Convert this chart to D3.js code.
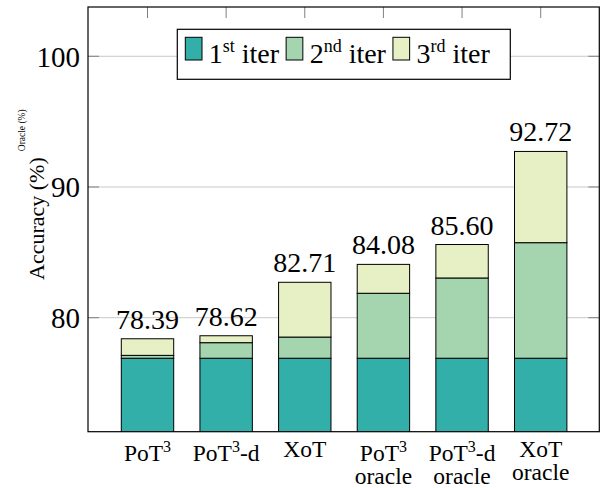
<!DOCTYPE html>
<html>
<head>
<meta charset="utf-8">
<script src="https://cdn.jsdelivr.net/npm/d3@7"></script>
<style>
  body { margin: 0; background: #fff; }
</style>
</head>
<body>
<svg id="chart" width="603" height="488"></svg>
<script>
// categories, "^" marks a one-character superscript, "\n" a line break
const categories = ["PoT^3", "PoT^3-d", "XoT", "PoT^3\noracle", "PoT^3-d\noracle", "XoT\noracle"];
// gain of each iteration (stacked)
const iter1 = [76.90, 76.90, 76.90, 76.90, 76.90, 76.90];
const iter2 = [0.22, 1.19, 1.62, 4.97, 6.14, 8.84];
const iter3 = [1.27, 0.53, 4.19, 2.21, 2.56, 6.98];
const totals = ["78.39", "78.62", "82.71", "84.08", "85.60", "92.72"];
const seriesNames = [["1", "st", " iter"], ["2", "nd", " iter"], ["3", "rd", " iter"]];
const seriesColors = ["#33afa9", "#a5d5ae", "#e6f0c4"];
const yTicks = [80, 90, 100];

const FONT = "Liberation Serif";
const svg = d3.select("#chart");
const plotLeft = 88, plotRight = 599.3, plotTop = 7, plotBottom = 431.7;

const x = d3.scalePoint()
    .domain(d3.range(categories.length))
    .range([147.5, 540.7]);
const barWidth = 52.4;

const y = d3.scaleLinear()
    .domain([71.28, 103.77])
    .range([plotBottom, plotTop]);

const rows = categories.map((c, i) => ({ i: i, s0: iter1[i], s1: iter2[i], s2: iter3[i] }));
const stack = d3.stack().keys(["s0", "s1", "s2"]);
const series = stack(rows);

// clip bars to the plot area (they start at 0)
svg.append("defs").append("clipPath")
    .attr("id", "plotClip")
    .append("rect")
    .attr("x", plotLeft).attr("y", plotTop)
    .attr("width", plotRight - plotLeft).attr("height", plotBottom - plotTop);

// grid lines
svg.append("g")
    .selectAll("line")
    .data(yTicks)
    .enter().append("line")
    .attr("x1", plotLeft).attr("x2", plotRight)
    .attr("y1", d => y(d)).attr("y2", d => y(d))
    .style("stroke", "#c8c8c8")
    .style("stroke-width", 1);

// tick marks (inward, both sides)
const tickG = svg.append("g").style("stroke", "#808080").style("stroke-width", 1);
yTicks.forEach(t => {
    tickG.append("line").attr("x1", plotLeft).attr("x2", plotLeft + 11).attr("y1", y(t)).attr("y2", y(t));
    tickG.append("line").attr("x1", plotRight - 11).attr("x2", plotRight).attr("y1", y(t)).attr("y2", y(t));
});
x.domain().forEach(i => {
    tickG.append("line").attr("x1", x(i)).attr("x2", x(i)).attr("y1", plotTop).attr("y2", plotTop + 11);
});

// bars
svg.append("g")
    .attr("clip-path", "url(#plotClip)")
    .selectAll("g")
    .data(series)
    .enter().append("g")
    .attr("fill", (d, k) => seriesColors[k])
    .selectAll("rect")
    .data(d => d)
    .enter().append("rect")
    .attr("x", d => x(d.data.i) - barWidth / 2)
    .attr("width", barWidth)
    .attr("y", d => y(d[1]))
    .attr("height", d => y(d[0]) - y(d[1]))
    .style("stroke", "#000")
    .style("stroke-width", 1);

// value labels
svg.append("g")
    .selectAll("text")
    .data(series[2])
    .enter().append("text")
    .attr("x", d => x(d.data.i))
    .attr("y", d => y(d[1]) - 10)
    .attr("text-anchor", "middle")
    .attr("font-family", FONT)
    .attr("font-size", 28)
    .text((d, i) => totals[i]);

// frame
svg.append("rect")
    .attr("x", plotLeft).attr("y", plotTop)
    .attr("width", plotRight - plotLeft).attr("height", plotBottom - plotTop)
    .attr("fill", "none")
    .style("stroke", "#000")
    .style("stroke-width", 1.2);

// y tick labels
svg.append("g")
    .selectAll("text")
    .data(yTicks)
    .enter().append("text")
    .attr("x", plotLeft - 8)
    .attr("y", d => y(d))
    .attr("dy", "0.36em")
    .attr("text-anchor", "end")
    .attr("font-family", FONT)
    .attr("font-size", 29)
    .text(d => d);

// x tick labels
const xLab = svg.append("g");
categories.forEach((c, i) => {
    const lines = c.split("\n");
    const hasSup = lines[0].includes("^");
    const base = plotBottom + (hasSup ? 29 : 25);
    lines.forEach((line, li) => {
        const t = xLab.append("text")
            .attr("x", x(i))
            .attr("y", base + li * 23)
            .attr("text-anchor", "middle")
            .attr("font-family", FONT)
            .attr("font-size", 23.5);
        const parts = line.split("^");
        t.append("tspan").text(parts[0]);
        if (parts.length > 1) {
            t.append("tspan").attr("font-size", 16).attr("dy", -8.5).text(parts[1][0]);
            if (parts[1].length > 1) t.append("tspan").attr("dy", 8.5).text(parts[1].slice(1));
        }
    });
});

// y axis label
const yl = svg.append("text")
    .attr("transform", "translate(44,280) rotate(-90)")
    .attr("font-family", FONT)
    .attr("font-size", 22);
yl.append("tspan").text("Accuracy (%)");
yl.append("tspan").attr("font-size", 9.5).attr("dx", 6).attr("dy", -19).text("Oracle (%)");

// legend
const legend = svg.append("g");
const legendBox = legend.append("rect")
    .attr("fill", "#fff")
    .style("stroke", "#000")
    .style("stroke-width", 1.2);
let lx = 185.3;
const legendBase = 63.3;
seriesNames.forEach((name, k) => {
    legend.append("rect")
        .attr("x", lx).attr("y", 37.3)
        .attr("width", 16.7).attr("height", 22.7)
        .attr("fill", seriesColors[k])
        .style("stroke", "#000")
        .style("stroke-width", 1);
    const t = legend.append("text")
        .attr("x", lx + 23.5)
        .attr("y", legendBase)
        .attr("font-family", FONT)
        .attr("font-size", 28);
    t.append("tspan").text(name[0]);
    t.append("tspan").attr("font-size", 18).attr("dy", -11).text(name[1]);
    t.append("tspan").attr("dy", 11).text(name[2]);
    lx = lx + 23.5 + t.node().getComputedTextLength() + 7;
});
legendBox.attr("x", 177.3).attr("y", 29.3)
    .attr("width", 510.3 - 177.3).attr("height", 50);
</script>
</body>
</html>
